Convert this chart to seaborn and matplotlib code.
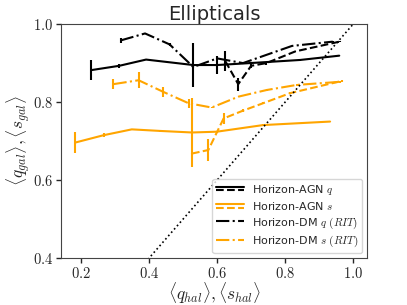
import numpy as np
import pandas as pd
import matplotlib
matplotlib.use("Agg")
import matplotlib.pyplot as plt
import seaborn as sns
from matplotlib.lines import Line2D
from matplotlib.legend_handler import HandlerBase
from matplotlib.ticker import FuncFormatter

# Horizon-AGN q (two samples: solid and dashed)
agn_q_x = [0.23, 0.312, 0.391, 0.53, 0.60, 0.697, 0.844, 0.959]
agn_q_y = [0.882, 0.893, 0.909, 0.895, 0.895, 0.900, 0.908, 0.919]
agn_q_err = [0.025, 0.005, 0.002, 0.057, 0.022, 0.002, 0.002, 0.002]

agn_q2_x = [0.624, 0.662, 0.700, 0.745, 0.830, 0.960]
agn_q2_y = [0.905, 0.846, 0.893, 0.900, 0.930, 0.955]
agn_q2_err = [0.025, 0.017, 0.005, 0.004, 0.002, 0.002]

# Horizon-AGN s
agn_s_x = [0.182, 0.266, 0.349, 0.432, 0.526, 0.599, 0.735, 0.932]
agn_s_y = [0.696, 0.715, 0.730, 0.726, 0.722, 0.724, 0.741, 0.750]
agn_s_err = [0.027, 0.005, 0.002, 0.002, 0.088, 0.003, 0.002, 0.002]

agn_s2_x = [0.526, 0.574, 0.619, 0.676, 0.735, 0.815, 0.966]
agn_s2_y = [0.668, 0.677, 0.758, 0.778, 0.797, 0.823, 0.854]
agn_s2_err = [0.002, 0.028, 0.013, 0.004, 0.002, 0.002, 0.002]

# Horizon-DM (RIT)
dm_q_x = [0.316, 0.388, 0.460, 0.530, 0.600, 0.676, 0.820, 0.940]
dm_q_y = [0.958, 0.976, 0.948, 0.890, 0.912, 0.900, 0.944, 0.955]
dm_q_err = [0.006, 0.001, 0.003, 0.003, 0.002, 0.002, 0.001, 0.001]

dm_s_x = [0.295, 0.369, 0.442, 0.516, 0.584, 0.663, 0.746, 0.834, 0.962]
dm_s_y = [0.846, 0.856, 0.826, 0.797, 0.786, 0.814, 0.831, 0.844, 0.852]
dm_s_err = [0.012, 0.020, 0.012, 0.012, 0.002, 0.002, 0.002, 0.002, 0.002]

one_to_one = [0.0, 1.1]

sns.set_style("ticks")
plt.rcParams["mathtext.fontset"] = "cm"
plt.rcParams["font.family"] = ["DejaVu Sans"]

fig = plt.figure(figsize=(4.07, 3.05), dpi=100)
ax = fig.add_axes([0.150, 0.154, 0.752, 0.767])

ORANGE = "orange"
series = [
    (agn_q_x, agn_q_y, agn_q_err, "black", "-"),
    (agn_q2_x, agn_q2_y, agn_q2_err, "black", "--"),
    (agn_s_x, agn_s_y, agn_s_err, ORANGE, "-"),
    (agn_s2_x, agn_s2_y, agn_s2_err, ORANGE, "--"),
    (dm_q_x, dm_q_y, dm_q_err, "black", "-."),
    (dm_s_x, dm_s_y, dm_s_err, ORANGE, "-."),
]
for x, y, e, c, ls in series:
    df = pd.DataFrame({"x": x, "y": y})
    sns.lineplot(data=df, x="x", y="y", sort=False, estimator=None,
                 color=c, linestyle=ls, lw=1.5, ax=ax)
    ax.errorbar(x, y, yerr=e, fmt="none", ecolor=c, elinewidth=1.5, capsize=0)

sns.lineplot(x=one_to_one, y=one_to_one, color="black", linestyle=":", lw=1.2, ax=ax)

ax.set_xlim(0.141, 1.041)
ax.set_ylim(0.4, 1.0)
ax.set_xticks([0.2, 0.4, 0.6, 0.8, 1.0])
ax.set_yticks([0.4, 0.6, 0.8, 1.0])
fmt = FuncFormatter(lambda v, p: f"${v:.1f}$")
ax.xaxis.set_major_formatter(fmt)
ax.yaxis.set_major_formatter(fmt)
ax.tick_params(labelsize=10.5, length=3.5, width=1, pad=2)
ax.set_xlabel(r"$\langle q_{hal}\rangle, \langle s_{hal}\rangle$", fontsize=12.5, labelpad=0)
ax.set_ylabel(r"$\langle q_{gal}\rangle, \langle s_{gal}\rangle$", fontsize=12.5, labelpad=1)
ax.set_title("Ellipticals", fontsize=14, pad=3)
for s in ax.spines.values():
    s.set_visible(True)
    s.set_color("#444444")


class DoubleLine(HandlerBase):
    def create_artists(self, legend, orig_handle, xdescent, ydescent,
                       width, height, fontsize, trans):
        c = orig_handle.get_color()
        x0, x1 = -xdescent, -xdescent + width
        top = Line2D([x0, x1], [0.75 * height - ydescent] * 2, color=c, lw=1.5, ls="-", transform=trans)
        bot = Line2D([x0, x1], [0.3 * height - ydescent] * 2, color=c, lw=1.5, ls="--", transform=trans)
        return [top, bot]


h_agn_q = Line2D([], [], color="black")
h_agn_s = Line2D([], [], color=ORANGE)
h_dm_q = Line2D([], [], color="black", ls="-.", lw=1.5)
h_dm_s = Line2D([], [], color=ORANGE, ls="-.", lw=1.5)
ax.legend([h_agn_q, h_agn_s, h_dm_q, h_dm_s],
          ["Horizon-AGN $q$", "Horizon-AGN $s$",
           "Horizon-DM $q$ $(RIT)$", "Horizon-DM $s$ $(RIT)$"],
          handler_map={h_agn_q: DoubleLine(), h_agn_s: DoubleLine()},
          loc="lower right", fontsize=8, frameon=True, borderaxespad=0.45,
          labelspacing=0.3, handlelength=2.5, handletextpad=0.7, borderpad=0.35)

fig.savefig("out.png", dpi=100)
